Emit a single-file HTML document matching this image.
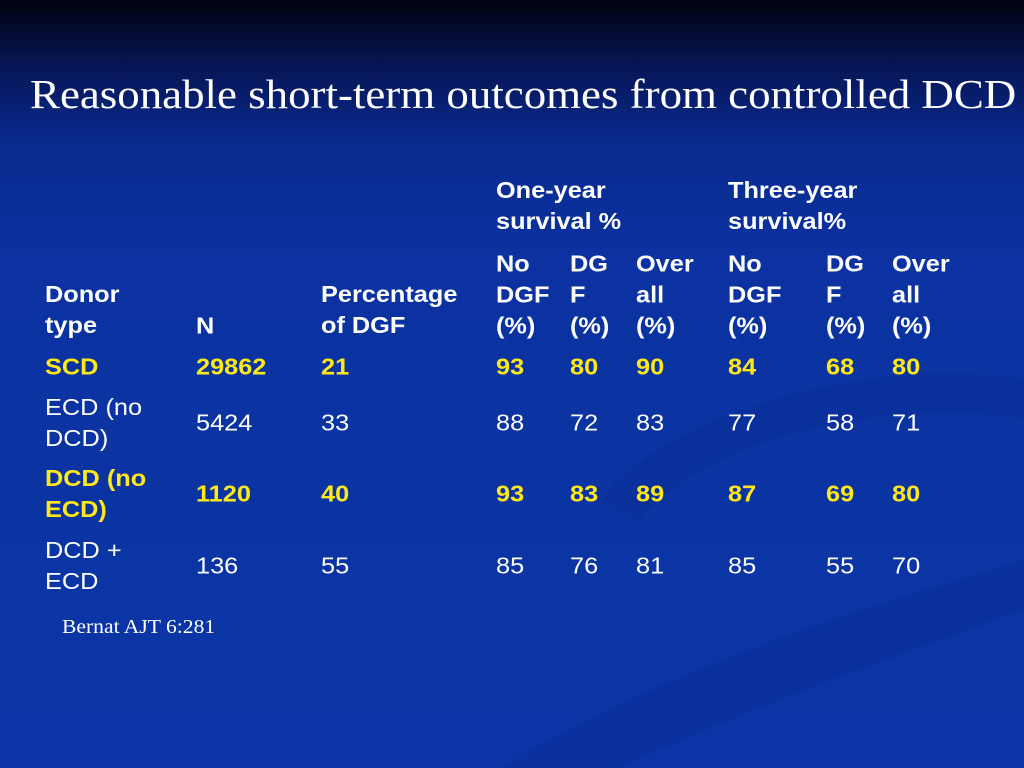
<!DOCTYPE html>
<html><head><meta charset="utf-8"><style>
body{margin:0;width:1024px;height:768px;overflow:hidden;}
#s{position:relative;width:1024px;height:768px;background:linear-gradient(180deg,#01030f 0px,#061450 60px,#0a2a8e 140px,#0b32a0 260px,#0b35a6 768px);font-family:"Liberation Sans",Arial,sans-serif;}
.t{position:absolute;color:#fff;font-size:23px;line-height:31px;white-space:nowrap;transform:translateY(-50%) scaleX(1.1);transform-origin:left center;}
.b{font-weight:bold}
.y{color:#ffe81a;font-weight:bold}
#title{position:absolute;left:30px;top:70px;font-family:"Liberation Serif",serif;font-size:41px;color:#fff;white-space:nowrap;transform:scaleX(1.095);transform-origin:left top;}
#cite{position:absolute;left:62px;top:616px;font-family:"Liberation Serif",serif;font-size:20px;color:#fff;transform:scaleX(1.08);transform-origin:left top;}
</style></head><body>
<div id="s">
<svg width="1024" height="768" style="position:absolute;left:0;top:0">
<path d="M600 500 C700 380 950 360 1024 380 L1024 420 C940 400 720 420 640 520 Z" fill="#0a2e98" opacity="0.6"/>
<path d="M500 768 C700 650 900 600 1024 560 L1024 610 C880 660 720 720 620 768 Z" fill="#0a2e98" opacity="0.6"/>
</svg>
<div id="title">Reasonable short-term outcomes from controlled DCD</div>
<div id="tbl">
<div class="t b" style="left:496px;top:206px">One-year<br>survival %</div>
<div class="t b" style="left:728px;top:206px">Three-year<br>survival%</div>
<div class="t b" style="left:45px;top:310px">Donor<br>type</div>
<div class="t b" style="left:196px;top:326px">N</div>
<div class="t b" style="left:321px;top:310px">Percentage<br>of DGF</div>
<div class="t b" style="left:496px;top:295px">No<br>DGF<br>(%)</div>
<div class="t b" style="left:570px;top:295px">DG<br>F<br>(%)</div>
<div class="t b" style="left:636px;top:295px">Over<br>all<br>(%)</div>
<div class="t b" style="left:728px;top:295px">No<br>DGF<br>(%)</div>
<div class="t b" style="left:826px;top:295px">DG<br>F<br>(%)</div>
<div class="t b" style="left:892px;top:295px">Over<br>all<br>(%)</div>
</div>
<script>
const rows=[["SCD","29862","21","93","80","90","84","68","80"],["ECD (no<br>DCD)","5424","33","88","72","83","77","58","71"],["DCD (no<br>ECD)","1120","40","93","83","89","87","69","80"],["DCD +<br>ECD","136","55","85","76","81","85","55","70"]];
const hl=[true,false,true,false];
const xs=[45,196,321,496,570,636,728,826,892];
const ys=[367,423,494,566];
const tbl=document.getElementById('tbl');
rows.forEach((r,i)=>{r.forEach((v,j)=>{
const d=document.createElement('div');
d.className='t'+(hl[i]?' y':'');
d.style.left=xs[j]+'px';d.style.top=ys[i]+'px';
d.innerHTML=v;


tbl.appendChild(d);});});
</script>
<div id="cite">Bernat AJT 6:281</div>
</div>
</body></html>
